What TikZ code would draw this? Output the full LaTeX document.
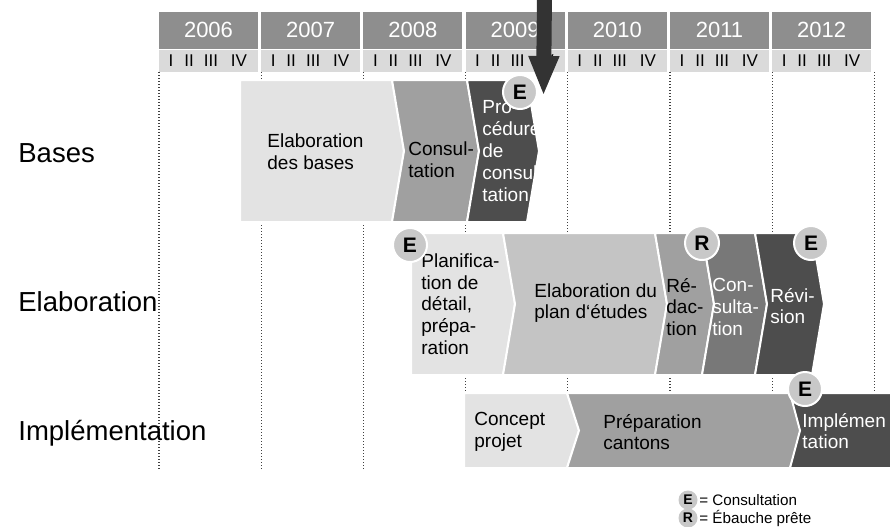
\documentclass[tikz,border=0pt]{standalone}
\usepackage{fontspec}
\setmainfont{Liberation Sans}
\usepackage{xcolor}
\usetikzlibrary{arrows.meta}

\definecolor{phlight}{HTML}{E3E3E3}
\definecolor{phpale}{HTML}{C4C4C4}
\definecolor{phmid}{HTML}{A0A0A0}
\definecolor{phdeep}{HTML}{787878}
\definecolor{phdark}{HTML}{4D4D4D}
\definecolor{yeargray}{HTML}{8E8E8E}
\definecolor{quartergray}{HTML}{DADADA}
\definecolor{markgray}{HTML}{C8C8C8}

% one phase bar: [left notch] left, right, top, bottom, colour
\newcommand{\phasebar}[6][12]{%
  \filldraw[fill=#6, draw=white, line width=1pt]
    (#2,#4) -- (#3,#4) -- ({#3+12},{(#4+#5)/2}) -- (#3,#5) -- (#2,#5)
    -- ({#2+#1},{(#4+#5)/2}) -- cycle;}

\begin{document}
\begin{tikzpicture}[x=0.5pt, y=-0.5pt,
  yearbox/.style={fill=yeargray},
  quarterbox/.style={fill=quartergray},
  yearlabel/.style={text=white, inner sep=0, font=\fontsize{11}{13}\selectfont},
  qlabel/.style={inner sep=0, font=\fontsize{8.5}{10}\selectfont},
  rowlabel/.style={anchor=west, inner sep=0, font=\fontsize{13.75}{16}\selectfont},
  phasetext/.style={anchor=west, align=left, inner sep=0, font=\fontsize{9.5}{10.9}\selectfont},
  darktext/.style={phasetext, text=white},
  marker/.style={circle, fill=markgray, draw=white, line width=1pt, minimum size=17pt, inner sep=0, font=\fontsize{10.5}{12}\selectfont\bfseries},
  keymark/.style={circle, fill=markgray, minimum size=9.5pt, inner sep=0, font=\fontsize{7}{8}\selectfont\bfseries},
  keytext/.style={anchor=west, inner sep=0, font=\fontsize{7.6}{9}\selectfont},
  gridline/.style={draw=black!75, line width=0.65pt, dash pattern=on 0.7pt off 0.8pt}]
  \useasboundingbox (0,0) rectangle (890,526);
  \clip (0,0) rectangle (890,526);

  % Years and quarters
  \foreach \yr [count=\i from 0] in {2006,...,2012} {
    \pgfmathsetmacro{\xl}{159+102.2*\i}
    \fill[yearbox] (\xl,12) rectangle ++(99,37);
    \node[yearlabel] (y\yr) at ({\xl+49.5},30) {\yr};
    \fill[quarterbox] (\xl,50) rectangle ++(99,22);
    \foreach \q/\dx in {I/12, II/30, III/52, IV/80}
      \node[qlabel] (q\yr\q) at ({\xl+\dx},61) {\q};
  }

  % Dotted year lines
  \foreach \i in {0,...,7}
    \draw[gridline] ({159+102.2*\i},72) -- ({159+102.2*\i},470);

  % Row labels
  \node[rowlabel] (lbases) at (18,153) {Bases};
  \node[rowlabel] (lelab) at (18,302) {Elaboration};
  \node[rowlabel] (limpl) at (18,433) {Implémentation};

  % Bases
  \phasebar[0]{240}{392}{80}{222}{phlight}
  \phasebar{392}{467}{80}{222}{phmid}
  \phasebar{467}{527}{80}{222}{phdark}
  \node[phasetext] (b1) at (267,152) {Elaboration\\des bases};
  \node[phasetext] (b2) at (408,160) {Consul-\\tation};
  \node[darktext] (b3) at (482,151) {Pro-\\cédure\\de\\consul-\\tation};

  % Elaboration
  \phasebar[0]{411}{503}{233}{375}{phlight}
  \phasebar{503}{655}{233}{375}{phpale}
  \phasebar{655}{702}{233}{375}{phmid}
  \phasebar{702}{755}{233}{375}{phdeep}
  \phasebar{755}{812}{233}{375}{phdark}
  \node[phasetext] (e1) at (421,304) {Planifica-\\tion de\\détail,\\prépa-\\ration};
  \node[phasetext] (e2) at (534,303) {Elaboration du\\plan d‘études};
  \node[phasetext] (e3) at (666,307) {Ré-\\dac-\\tion};
  \node[darktext] (e4) at (712,307) {Con-\\sulta-\\tion};
  \node[darktext] (e5) at (770,306) {Révi-\\sion};

  % Implementation
  \phasebar[0]{464}{567}{393}{468}{phlight}
  \phasebar{567}{790}{393}{468}{phmid}
  \phasebar[10]{790}{905}{393}{468}{phdark}
  \node[phasetext] (i1) at (474,432) {Concept\\projet};
  \node[phasetext] (i2) at (603,432) {Préparation\\cantons};
  \node[darktext] (i3) at (802,431) {Implémen\\tation};

  % Milestones
  \node[marker] (m1) at (520,92) {E};
  \node[marker] (m2) at (410,245) {E};
  \node[marker] (m3) at (702,243) {R};
  \node[marker] (m4) at (811,243) {E};
  \node[marker] (m5) at (805,389) {E};

  % Today arrow
  \coordinate (arrtop) at (544.5,-5);
  \coordinate (arrtip) at (543.5,96);
  \draw[-{Triangle[length=20pt,width=14pt]}, line width=7.5pt, draw=black!80] (arrtop) -- (arrtip);

  % Key
  \node[keymark] (kE) at (688,500) {E};
  \node[keytext] (ktE) at (699,500) {= Consultation};
  \node[keymark] (kR) at (688,518) {R};
  \node[keytext] (ktR) at (699,518) {= Ébauche prête};
\end{tikzpicture}
\end{document}
